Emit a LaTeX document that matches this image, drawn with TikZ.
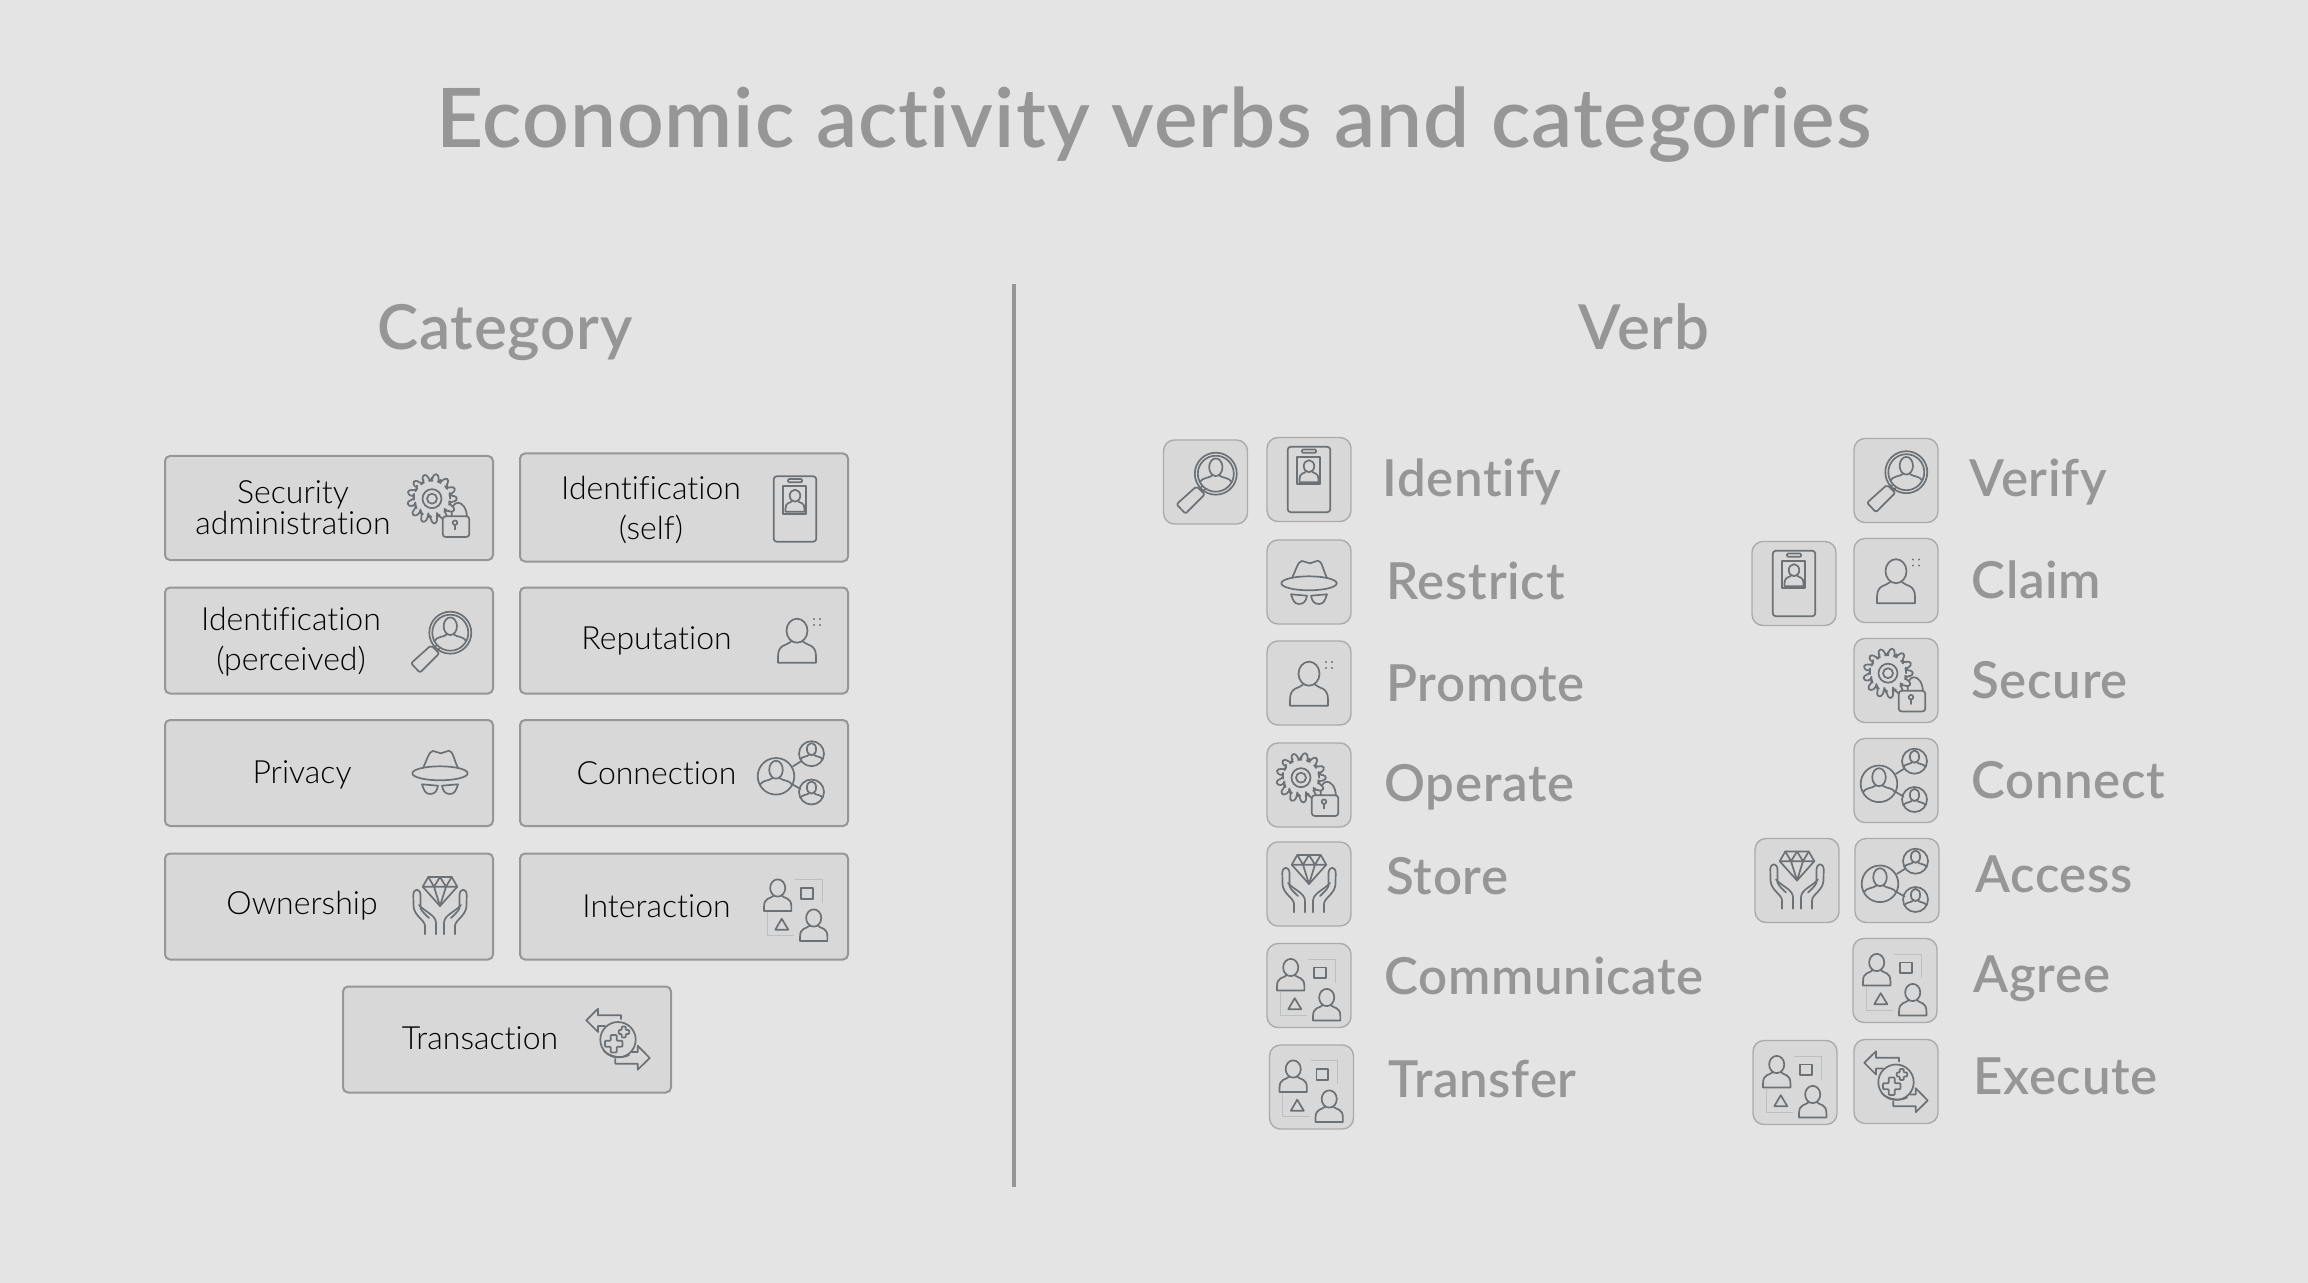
\documentclass[tikz,border=0pt]{standalone}
\usepackage{fontspec}
\setmainfont{Lato}
\newfontfamily\lightfont[Ligatures=CommonOff]{Lato Light}
\newfontfamily\mediumfont[Ligatures=CommonOff]{Lato Semibold}
\usetikzlibrary{positioning}
\definecolor{pagegray}{HTML}{E4E4E4}
\definecolor{tilegray}{HTML}{D8D8D8}
\definecolor{headgray}{HTML}{969696}
\definecolor{edgegray}{HTML}{ABABAB}
\definecolor{iconslate}{HTML}{6C7176}
\tikzset{
  icon/.style={draw=iconslate, line width=0.85pt, line join=round, line cap=round},
  faint/.style={draw=iconslate!45, line width=0.5pt},
  bust/.pic={
    \draw[icon] (0,0) circle (1);
    \draw[icon] (0,-.36) ellipse (.37 and .49);
    \draw[icon] (-.2,.1) .. controls (-.35,.25) and (-.75,.2) .. (-.88,.46);
    \draw[icon] (.2,.1) .. controls (.35,.25) and (.75,.2) .. (.88,.46);
  },
  person/.pic={
    \draw[icon] (0,0) ellipse (10.5 and 12);
    \draw[icon] (-6,11) .. controls (-10,15) and (-19,13) .. (-19,26) -- (-19,32) -- (19,32) -- (19,26) .. controls (19,13) and (10,15) .. (6,11);
  },
  badge/.pic={
    \draw[icon, rounded corners=1.5pt] (-21.3,-32.7) rectangle (21.3,32.7);
    \draw[icon, rounded corners=.5pt] (-7,-30) rectangle (7,-26.7);
    \draw[icon] (-12,-22.7) rectangle (11,4.7);
    \pic[scale=.5] at (0,-13.3) {person};
  },
  glass/.pic={
    \pic[scale=18] at (10.3,-8.3) {bust};
    \draw[icon] (10.3,-8.3) circle (21);
    \draw[icon, rounded corners=1pt] (-29,22.3) -- (-20,31.7) -- (-.7,12.3) -- (-9,4.3) -- cycle;
    \draw[icon] (-6,7) -- (-3.5,4.5) (-3,10) -- (-.5,7.5);
  },
  hat/.pic={
    \draw[icon] (-17,-4) .. controls (-13,-12) and (-11,-21) .. (-7,-21) .. controls (-4,-21) and (-2,-18.7) .. (1,-18.7) .. controls (4,-18.7) and (6,-21.5) .. (9,-21.3) .. controls (13,-21) and (14,-12) .. (18,-4);
    \draw[icon] (0,1.3) ellipse (27.7 and 7);
    \draw[icon] (-18,12.3) -- (-2,13.7) .. controls (-3,19) and (-5,22) .. (-10,22) .. controls (-15,22) and (-16,18) .. (-18,12.3);
    \draw[icon] (18,12.3) -- (2,13.7) .. controls (3,19) and (5,22) .. (10,22) .. controls (15,22) and (16,18) .. (18,12.3);
  },
  fame/.pic={
    \pic at (0,-9.3) {person};
    \draw[icon, line width=.6pt] (16.5,-21.5) -- (17.5,-20.5) (23.5,-21.5) -- (22.5,-20.5) (16.5,-14.5) -- (17.5,-15.5) (23.5,-14.5) -- (22.5,-15.5);
  },
  gearlock/.pic={
    \draw[icon] (12,11) .. controls (9,-8) and (26,-8) .. (27,11);
    \draw[icon, fill=tilegray, rounded corners=1.5pt] (-8,-7.3) ++(-9:18)
      \foreach \a in {0,28,...,336}{ -- ++(0,0) -- ([shift={(-8,-7.3)}]\a-6:25) -- ([shift={(-8,-7.3)}]\a+6:25) -- ([shift={(-8,-7.3)}]\a+10:18) -- ([shift={(-8,-7.3)}]\a+18:18)} -- cycle;
    \draw[icon] (-8,-7.3) circle (9.5) (-8,-7.3) circle (5);
    \draw[icon, fill=tilegray, rounded corners=1.5pt] (2.7,10.3) rectangle (29.3,31);
    \draw[icon] (15,16.7) circle (2.3) (15,19) -- (15,23.5);
  },
  network/.pic={
    \pic[scale=18.3] at (-17,3.3) {bust};
    \pic[scale=12.5] at (18.5,-19.3) {bust};
    \pic[scale=12.5] at (18.5,19) {bust};
    \draw[icon] (0,-6.7) -- (8,-11.7) (0,11.7) -- (7.5,16);
  },
  gem/.pic={
    \draw[icon] (-11.7,-29) -- (11.7,-29) -- (17.3,-19.3) -- (0,0) -- (-17.3,-19.3) -- cycle;
    \draw[icon] (-17.3,-19.3) -- (17.3,-19.3) (-6,-19.3) -- (0,0) -- (6,-19.3) (-11.7,-29) -- (-6,-19.3) -- (0,-29) -- (6,-19.3) -- (11.7,-29);
    \draw[icon] (-15,28.3) -- (-15,20) .. controls (-15,14) and (-26,10) .. (-26.5,0) -- (-26.7,-11) .. controls (-26.5,-18) and (-20,-18) .. (-19.5,-11) -- (-19.5,2) .. controls (-18,6) and (-14,9) .. (-11,12);
    \draw[icon] (-4,28.3) -- (-4,17) .. controls (-4,9) and (-15,6) .. (-21,-1);
    \draw[icon] (15,28.3) -- (15,20) .. controls (15,14) and (26,10) .. (26.5,0) -- (26.7,-11) .. controls (26.5,-18) and (20,-18) .. (19.5,-11) -- (19.5,2) .. controls (18,6) and (14,9) .. (11,12);
    \draw[icon] (4,28.3) -- (4,17) .. controls (4,9) and (15,6) .. (21,-1);
  },
  dialogue/.pic={
    \draw[faint] (-1,-26.3) -- (26.3,-26.3) -- (26.3,-3);
    \draw[faint] (-29,6.3) -- (-29,29.7) -- (-1.7,29.7);
    \pic[scale=.72] at (-18.3,-18) {person};
    \pic[scale=.72] at (17.7,12) {person};
    \draw[icon] (5,-18) rectangle (16.7,-7.3);
    \draw[icon] (-20.7,23.7) -- (-7.7,23.7) -- (-14.3,12.7) -- cycle;
  },
  exchange/.pic={
    \draw[icon] (3,-20) -- (3,-23.7) -- (-20,-23.7) -- (-20,-30.3) -- (-31.7,-18.7) -- (-20,-7) -- (-20,-13) -- (-13,-13);
    \draw[icon] (-2.7,20) -- (-2.7,24.7) -- (19.7,24.7) -- (19.7,30.7) -- (31.7,19) -- (19.7,6.7) -- (19.7,13) -- (14,13);
    \draw[icon, fill=tilegray] (0,.7) circle (17.7);
    \draw[icon] (-14,12) .. controls (-8,18) and (4,20) .. (11,16);
    \draw[icon, rounded corners=.4pt] (-13,1.7) -- (-7.3,1.7) -- (-7.3,-4) -- (-1.3,-4) -- (-1.3,1.7) -- (4.4,1.7) -- (4.4,7.7) -- (-1.3,7.7) -- (-1.3,13.4) -- (-7.3,13.4) -- (-7.3,7.7) -- (-13,7.7) -- cycle;
    \draw[icon, rounded corners=.4pt] (.7,-9) -- (3.7,-9) -- (3.7,-12.5) -- (7.7,-12.5) -- (7.7,-9) -- (11.2,-9) -- (11.2,-5) -- (7.7,-5) -- (7.7,-1.5) -- (3.7,-1.5) -- (3.7,-5) -- (.7,-5) -- cycle;
  },
  panel/.style={rectangle, draw=headgray, fill=tilegray, line width=1pt, rounded corners=2.5pt, minimum width=164pt, minimum height=53pt, inner sep=0pt},
  tile/.style={rectangle, draw=edgegray, fill=tilegray, line width=.7pt, rounded corners=5.5pt, minimum width=42pt, minimum height=42pt, inner sep=0pt},
  paneltext/.style={align=center, inner sep=0pt, text=black, font=\lightfont\fontsize{16}{20}\selectfont},
  verbword/.style={anchor=base west, inner sep=0pt, text=headgray, font=\mediumfont\addfontfeature{LetterSpace=1.4}\fontsize{25.5}{28}\selectfont},
  heading/.style={anchor=base, inner sep=0pt, text=headgray, font=\mediumfont\addfontfeature{LetterSpace=1.2}\fontsize{31}{34}\selectfont}
}
\begin{document}
\begin{tikzpicture}[x=0.5pt, y=-0.5pt]
  \path[use as bounding box, fill=pagegray] (0,0) rectangle (2308,1283);

  \node[anchor=base, inner sep=0pt, text=headgray, font=\mediumfont\addfontfeature{LetterSpace=1.2}\fontsize{41}{44}\selectfont] (title) at (1154,148) {Economic activity verbs and categories};
  \node[heading] (category) at (505,350) {Category};
  \node[heading] (verb) at (1644,350) {Verb};
  \draw[headgray, line width=2.3pt] (1014,284) coordinate (divtop) -- (1014,1187) coordinate (divbottom);

  % category panels
  \node[panel, minimum height=52pt] (security) at (329,508) {};
  \node[panel, minimum height=54pt] (selfid) at (684,507.5) {};
  \node[panel] (perceived) at (329,640.5) {};
  \node[panel] (reputation) at (684,640.5) {};
  \node[panel] (privacy) at (329,773) {};
  \node[panel] (connection) at (684,773) {};
  \node[panel] (ownership) at (329,906.5) {};
  \node[panel] (interaction) at (684,906.5) {};
  \node[panel] (transaction) at (507,1039.5) {};

  \node[paneltext, font=\lightfont\fontsize{16}{15.5}\selectfont] (securitytext) at (293,507.5) {Security\\administration};
  \node[paneltext] (selfidtext) at (651,510) {Identification\\(self)};
  \node[paneltext] (perceivedtext) at (291,642) {Identification\\(perceived)};
  \node[paneltext] (reputationtext) at (656.5,641) {Reputation};
  \node[paneltext] (privacytext) at (302,775) {Privacy};
  \node[paneltext] (connectiontext) at (656.5,773) {Connection};
  \node[paneltext] (ownershiptext) at (302,906) {Ownership};
  \node[paneltext] (interactiontext) at (656.5,906) {Interaction};
  \node[paneltext] (transactiontext) at (480,1038) {Transaction};

  \pic at (440,506) {gearlock};
  \pic at (795,509) {badge};
  \pic at (440,641) {glass};
  \pic at (797,640) {fame};
  \pic at (440,772) {hat};
  \pic at (793,773) {network};
  \pic at (440,906) {gem};
  \pic at (796,906) {dialogue};
  \pic at (618,1039) {exchange};

  % verbs, left column
  \node[tile] (glassA) at (1205.5,482) {};
  \node[tile] (badgeA) at (1309,479.5) {};
  \node[tile] (hatA) at (1309,582) {};
  \node[tile] (fameA) at (1309,683) {};
  \node[tile] (gearA) at (1309,785) {};
  \node[tile] (gemA) at (1309,884) {};
  \node[tile] (dialogueA) at (1309,985.5) {};
  \node[tile] (dialogueB) at (1311.5,1087) {};
  \pic at (glassA) {glass};
  \pic at (badgeA) {badge};
  \pic at (hatA) {hat};
  \pic at (fameA) {fame};
  \pic at (gearA) {gearlock};
  \pic at (gemA) {gem};
  \pic at (dialogueA) {dialogue};
  \pic at (dialogueB) {dialogue};

  \node[verbword] (identify) at (1382,496) {Identify};
  \node[verbword] (restrict) at (1386,599) {Restrict};
  \node[verbword] (promote) at (1386,701) {Promote};
  \node[verbword] (operate) at (1384,801) {Operate};
  \node[verbword] (store) at (1386,894) {Store};
  \node[verbword] (communicate) at (1384,994) {Communicate};
  \node[verbword] (transfer) at (1388,1097) {Transfer};

  % verbs, right column
  \node[tile] (glassB) at (1896,480.5) {};
  \node[tile] (badgeB) at (1794,583.5) {};
  \node[tile] (fameB) at (1896,580.5) {};
  \node[tile] (gearB) at (1896,680.5) {};
  \node[tile] (networkA) at (1896,780.5) {};
  \node[tile] (gemB) at (1797,880.5) {};
  \node[tile] (networkB) at (1897,880.5) {};
  \node[tile] (dialogueC) at (1895,980.5) {};
  \node[tile] (dialogueD) at (1795,1082.5) {};
  \node[tile] (exchangeA) at (1896,1081.5) {};
  \pic at (glassB) {glass};
  \pic at (badgeB) {badge};
  \pic at (fameB) {fame};
  \pic at (gearB) {gearlock};
  \pic at (networkA) {network};
  \pic at (gemB) {gem};
  \pic at (networkB) {network};
  \pic at (dialogueC) {dialogue};
  \pic at (dialogueD) {dialogue};
  \pic at (exchangeA) {exchange};

  \node[verbword] (verify) at (1969,496) {Verify};
  \node[verbword] (claim) at (1971,598) {Claim};
  \node[verbword] (secure) at (1971,698) {Secure};
  \node[verbword] (connect) at (1971,798) {Connect};
  \node[verbword] (access) at (1975,892) {Access};
  \node[verbword] (agree) at (1973,992) {Agree};
  \node[verbword] (execute) at (1973,1094) {Execute};
\end{tikzpicture}
\end{document}
